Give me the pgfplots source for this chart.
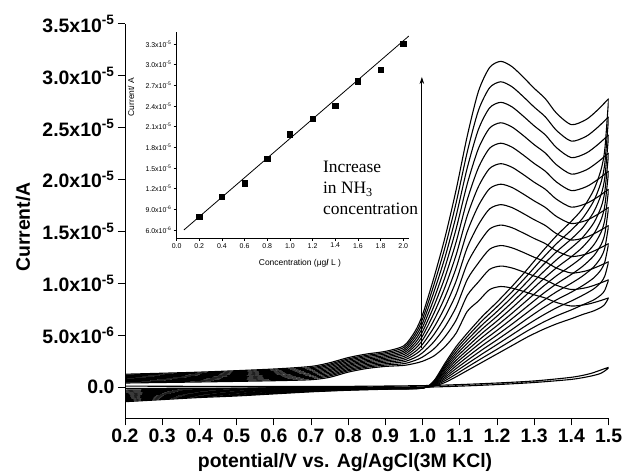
\documentclass[border=0pt]{standalone}
\usepackage{pgfplots}
\pgfplotsset{compat=1.18}
\usepackage{pgfplotstable}
\usepackage{fontspec}
\setmainfont{Liberation Sans}
\newfontfamily\serifit{Liberation Serif}
\usetikzlibrary{arrows.meta}

\pgfplotstableread{
x c1 c2 c3 c4 c5 c6 c7 c8 c9 c10 c11 c12
0.20 1.25 1.17 1.10 1.02 0.94 0.86 0.79 0.71 0.63 0.55 0.48 0.40
0.40 1.45 1.36 1.28 1.19 1.10 1.02 0.93 0.85 0.76 0.67 0.59 0.50
0.60 1.75 1.65 1.54 1.44 1.34 1.24 1.13 1.03 0.93 0.83 0.72 0.62
0.70 2.00 1.88 1.77 1.65 1.53 1.42 1.30 1.19 1.07 0.95 0.84 0.72
0.75 2.35 2.22 2.10 1.97 1.84 1.71 1.59 1.46 1.33 1.20 1.08 0.95
0.80 2.85 2.72 2.60 2.47 2.34 2.21 2.09 1.96 1.83 1.70 1.58 1.45
0.85 3.20 3.07 2.95 2.82 2.69 2.56 2.44 2.31 2.18 2.05 1.93 1.80
0.90 3.45 3.32 3.19 3.05 2.92 2.79 2.66 2.53 2.40 2.26 2.13 2.00
0.95 4.00 3.83 3.65 3.48 3.31 3.14 2.96 2.79 2.62 2.45 2.27 2.10
0.98 5.40 5.12 4.84 4.55 4.27 3.99 3.71 3.43 3.15 2.86 2.58 2.30
1.00 7.00 6.59 6.18 5.77 5.36 4.95 4.55 4.14 3.73 3.32 2.91 2.50
1.03 10.50 9.82 9.14 8.45 7.77 7.09 6.41 5.73 5.05 4.36 3.68 3.00
1.06 14.40 13.45 12.49 11.54 10.58 9.63 8.67 7.72 6.76 5.81 4.85 3.90
1.09 19.00 17.75 16.49 15.24 13.98 12.73 11.47 10.22 8.96 7.71 6.45 5.20
1.12 24.20 22.66 21.13 19.59 18.05 16.52 14.98 13.45 11.91 10.37 8.84 7.30
1.15 28.50 26.66 24.83 22.99 21.15 19.32 17.48 15.65 13.81 11.97 10.14 8.30
1.18 30.80 28.85 26.91 24.96 23.02 21.07 19.13 17.18 15.24 13.29 11.35 9.40
1.21 31.40 29.43 27.45 25.48 23.51 21.54 19.56 17.59 15.62 13.65 11.67 9.70
1.24 30.90 28.96 27.02 25.08 23.14 21.20 19.25 17.31 15.37 13.43 11.49 9.55
1.27 29.90 28.02 26.14 24.27 22.39 20.51 18.63 16.75 14.87 13.00 11.12 9.24
1.30 28.80 26.99 25.18 23.37 21.56 19.75 17.95 16.14 14.33 12.52 10.71 8.90
1.33 27.80 26.05 24.31 22.56 20.81 19.07 17.32 15.58 13.83 12.08 10.34 8.59
1.36 26.40 24.74 23.08 21.43 19.77 18.11 16.45 14.79 13.13 11.48 9.82 8.16
1.40 25.30 23.71 22.12 20.53 18.94 17.35 15.77 14.18 12.59 11.00 9.41 7.82
1.44 25.80 24.18 22.56 20.94 19.32 17.70 16.07 14.45 12.83 11.21 9.59 7.97
1.47 26.70 25.02 23.35 21.67 19.99 18.31 16.64 14.96 13.28 11.61 9.93 8.25
1.50 27.80 26.05 24.31 22.56 20.82 19.07 17.33 15.58 13.84 12.09 10.35 8.60
}\fwd

\pgfplotstableread{
x c1 c2 c3 c4 c5 c6 c7 c8 c9 c10 c11 c12
1.50 27.80 26.05 24.31 22.56 20.82 19.07 17.33 15.58 13.84 12.09 10.35 8.60
1.49 23.00 21.64 20.27 18.91 17.55 16.18 14.82 13.45 12.09 10.73 9.36 8.00
1.48 21.00 19.79 18.58 17.37 16.16 14.95 13.75 12.54 11.33 10.12 8.91 7.70
1.46 19.00 17.94 16.88 15.82 14.76 13.70 12.65 11.59 10.53 9.47 8.41 7.35
1.43 17.20 16.27 15.35 14.42 13.49 12.56 11.64 10.71 9.78 8.85 7.93 7.00
1.40 16.00 15.15 14.29 13.44 12.58 11.73 10.87 10.02 9.16 8.31 7.45 6.60
1.36 14.60 13.83 13.05 12.28 11.51 10.74 9.96 9.19 8.42 7.65 6.87 6.10
1.32 13.00 12.32 11.64 10.95 10.27 9.59 8.91 8.23 7.55 6.86 6.18 5.50
1.28 11.30 10.71 10.12 9.53 8.94 8.35 7.75 7.16 6.57 5.98 5.39 4.80
1.24 9.70 9.18 8.66 8.15 7.63 7.11 6.59 6.07 5.55 5.04 4.52 4.00
1.20 8.20 7.75 7.29 6.84 6.38 5.93 5.47 5.02 4.56 4.11 3.65 3.20
1.16 6.80 6.40 6.00 5.60 5.20 4.80 4.40 4.00 3.60 3.20 2.80 2.40
1.12 5.20 4.87 4.55 4.22 3.89 3.56 3.24 2.91 2.58 2.25 1.93 1.60
1.09 3.90 3.64 3.37 3.11 2.85 2.58 2.32 2.05 1.79 1.53 1.26 1.00
1.06 2.30 2.13 1.96 1.80 1.63 1.46 1.29 1.12 0.95 0.79 0.62 0.45
1.03 0.60 0.55 0.51 0.46 0.42 0.37 0.33 0.28 0.24 0.19 0.15 0.10
1.00 -0.10 -0.09 -0.09 -0.08 -0.07 -0.06 -0.06 -0.05 -0.04 -0.03 -0.03 -0.02
0.90 -0.20 -0.18 -0.16 -0.15 -0.13 -0.11 -0.09 -0.07 -0.05 -0.04 -0.02 0.00
0.80 -0.30 -0.27 -0.25 -0.22 -0.19 -0.16 -0.14 -0.11 -0.08 -0.05 -0.03 0.00
0.70 -0.45 -0.41 -0.37 -0.33 -0.29 -0.25 -0.20 -0.16 -0.12 -0.08 -0.04 0.00
0.60 -0.65 -0.60 -0.54 -0.49 -0.43 -0.38 -0.32 -0.27 -0.21 -0.16 -0.10 -0.05
0.50 -0.85 -0.78 -0.71 -0.65 -0.58 -0.51 -0.44 -0.37 -0.30 -0.24 -0.17 -0.10
0.40 -1.00 -0.92 -0.85 -0.77 -0.69 -0.62 -0.54 -0.47 -0.39 -0.31 -0.24 -0.16
0.30 -1.20 -1.11 -1.02 -0.93 -0.84 -0.75 -0.67 -0.58 -0.49 -0.40 -0.31 -0.22
0.20 -1.40 -1.30 -1.20 -1.09 -0.99 -0.89 -0.79 -0.69 -0.59 -0.48 -0.38 -0.28
}\rev

\pgfplotstableread{
x y
0.20 0.10
0.40 0.08
0.60 0.07
0.80 0.08
1.00 0.15
1.10 0.25
1.20 0.40
1.30 0.60
1.40 0.95
1.45 1.30
1.50 1.90
1.48 1.35
1.45 1.05
1.40 0.75
1.30 0.45
1.20 0.25
1.10 0.10
1.00 0.00
0.80 -0.05
0.60 -0.08
0.40 -0.10
0.20 -0.12
}\blank

\pgfplotsset{cvcurve/.style={black, no markers, line width=1.1bp, smooth, tension=0.45}}

\begin{document}
\begin{tikzpicture}
\useasboundingbox (0,0) rectangle (626bp,474bp);
\begin{axis}[
  at={(125bp,55.7bp)}, anchor=south west,
  scale only axis, width=483.6bp, height=394.3bp,
  xmin=0.2, xmax=1.5, ymin=-3, ymax=35,
  axis lines*=left,
  axis line style={line width=1bp},
  tick align=outside, major tick length=7bp,
  tick style={black, line width=1bp},
  xtick={0.2,0.3,0.4,0.5,0.6,0.7,0.8,0.9,1.0,1.1,1.2,1.3,1.4,1.5},
  xticklabels={0.2,0.3,0.4,0.5,0.6,0.7,0.8,0.9,1.0,1.1,1.2,1.3,1.4,1.5},
  ytick={0,5,10,15,20,25,30,35},
  yticklabels={0.0,5.0x10\textsuperscript{-6},1.0x10\textsuperscript{-5},1.5x10\textsuperscript{-5},2.0x10\textsuperscript{-5},2.5x10\textsuperscript{-5},3.0x10\textsuperscript{-5},3.5x10\textsuperscript{-5}},
  tick label style={font=\bfseries\fontsize{19.5}{22}\selectfont},
  label style={font=\bfseries\fontsize{19.5}{22}\selectfont},
  xlabel={potential/V vs. Ag/AgCl(3M KCl)},
  ylabel={Current/A},
  xlabel style={at={(axis description cs:0.455,-0.111)}, anchor=center},
  ylabel style={at={(axis description cs:-0.211,0.485)}, anchor=center},
]
\pgfplotsinvokeforeach{1,...,12}{
  \addplot[cvcurve] table[x=x, y=c#1] {\fwd};
  \addplot[cvcurve] table[x=x, y=c#1] {\rev};
}
\addplot[cvcurve] table[x=x, y=y] {\blank};
\draw[-{Stealth[length=7bp,width=4.5bp]}, line width=1bp] (axis cs:0.998,3.8) -- (axis cs:0.998,29.9);
\node[anchor=west, align=left, inner sep=0pt, font=\serifit\fontsize{17.5}{21.5}\selectfont] at (axis cs:0.732,19.2) {Increase\\in NH\textsubscript{3}\\concentration};
\end{axis}

\begin{axis}[
  at={(176.6bp,236bp)}, anchor=south west,
  scale only axis, width=232.3bp, height=206bp,
  xmin=0, xmax=2.05, ymin=4.84, ymax=34.74,
  axis lines*=left,
  axis line style={line width=0.8bp},
  tick align=outside, major tick length=3bp,
  tick style={black, line width=0.7bp},
  xtick={0,0.2,0.4,0.6,0.8,1.0,1.2,1.4,1.6,1.8,2.0},
  xticklabels={0.0,0.2,0.4,0.6,0.8,1.0,1.2,1.4,1.6,1.8,2.0},
  ytick={6,9,12,15,18,21,24,27,30,33},
  yticklabels={6.0x10\textsuperscript{-6},9.0x10\textsuperscript{-6},1.2x10\textsuperscript{-5},1.5x10\textsuperscript{-5},1.8x10\textsuperscript{-5},2.1x10\textsuperscript{-5},2.4x10\textsuperscript{-5},2.7x10\textsuperscript{-5},3.0x10\textsuperscript{-5},3.3x10\textsuperscript{-5}},
  tick label style={font=\fontsize{7}{8}\selectfont},
  xticklabel style={inner sep=2bp},
  yticklabel style={inner sep=2bp},
  label style={font=\fontsize{8.5}{10}\selectfont},
  xlabel={Concentration (μg\textbf{/} L )},
  ylabel={Current/ A},
  xlabel style={at={(axis description cs:0.531,-0.121)}, anchor=center},
  ylabel style={at={(axis description cs:-0.196,0.684)}, anchor=center},
]
\addplot[only marks, mark=square*, mark size=2.6bp, black] coordinates {
  (0.2,7.9) (0.4,10.8) (0.6,12.8) (0.8,16.4) (1.0,19.9)
  (1.2,22.1) (1.4,24.1) (1.6,27.6) (1.8,29.3) (2.0,33.0)};
\addplot[black, line width=0.8bp] coordinates {(0.064,6.0) (2.05,34.16)};
\end{axis}
\end{tikzpicture}
\end{document}
